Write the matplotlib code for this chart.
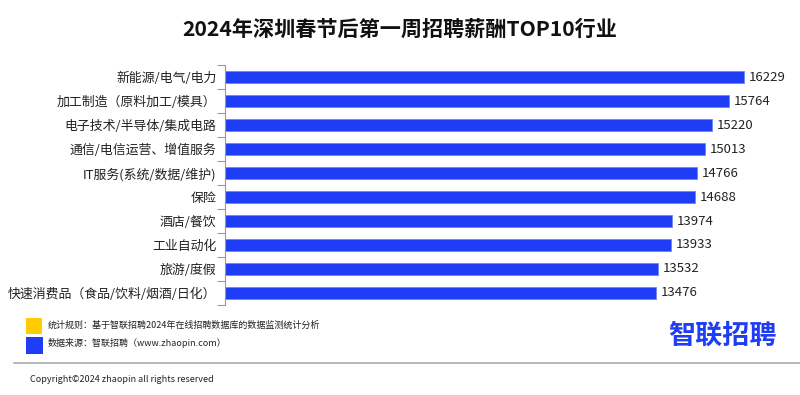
import numpy as np
import matplotlib
matplotlib.use("Agg")
import matplotlib.pyplot as plt
from matplotlib.patches import Rectangle
from matplotlib.lines import Line2D

plt.rcParams['font.family'] = ['Noto Sans CJK SC', 'DejaVu Sans']

# 数据
industries = ['新能源/电气/电力', '加工制造（原料加工/模具）', '电子技术/半导体/集成电路',
              '通信/电信运营、增值服务', 'IT服务(系统/数据/维护)', '保险', '酒店/餐饮',
              '工业自动化', '旅游/度假', '快速消费品（食品/饮料/烟酒/日化）']
salaries = [16229, 15764, 15220, 15013, 14766, 14688, 13974, 13933, 13532, 13476]

title = '2024年深圳春节后第一周招聘薪酬TOP10行业'
note_rule = '统计规则：基于智联招聘2024年在线招聘数据库的数据监测统计分析'
note_source = '数据来源：智联招聘（www.zhaopin.com）'
copyright_text = 'Copyright©2024 zhaopin all rights reserved'

bar_color = '#1f3df5'

fig = plt.figure(figsize=(8, 3.95), dpi=100)
fig.patch.set_facecolor('white')

ax = fig.add_axes([0.281, 0.228, 0.712, 0.607])
y = np.arange(len(industries))
ax.barh(y, salaries, height=0.52, color=bar_color, edgecolor='#6f86f7', linewidth=0.6)
for yi, v in zip(y, salaries):
    ax.text(v + 150, yi, str(v), va='center', ha='left', fontsize=9.5, color='#222222')

ax.set_ylim(len(industries) - 0.5, -0.5)
ax.set_xlim(0, 17800)
ax.set_yticks(y)
ax.set_yticklabels(industries, fontsize=9.3, color='#222222')
ax.set_yticks(np.arange(-0.5, len(industries) + 0.5, 1), minor=True)
ax.tick_params(axis='y', which='major', length=0, pad=6)
ax.tick_params(axis='y', which='minor', length=6, color='#999999', width=0.8)
ax.set_xticks([])
for s in ['top', 'right', 'bottom']:
    ax.spines[s].set_visible(False)
ax.spines['left'].set_color('#999999')
ax.spines['left'].set_linewidth(0.8)

fig.text(0.5, 0.925, title, ha='center', va='center', fontsize=15.2, fontweight='bold', color='#111111')

# 图例方块与说明
fig.patches.append(Rectangle((26 / 800, 1 - 334 / 395), 16 / 800, 16 / 395,
                             transform=fig.transFigure, facecolor='#ffcc00', edgecolor='none'))
fig.patches.append(Rectangle((26 / 800, 1 - 354 / 395), 17 / 800, 17 / 395,
                             transform=fig.transFigure, facecolor='#1f3df5', edgecolor='none'))
fig.text(48 / 800, 1 - 325 / 395, note_rule, fontsize=6.5, va='center', color='#222222')
fig.text(48 / 800, 1 - 343 / 395, note_source, fontsize=6.5, va='center', color='#222222')

fig.lines.append(Line2D([14 / 800, 1.0], [1 - 363 / 395] * 2, transform=fig.transFigure,
                        color='#aaaaaa', linewidth=1.2))
fig.text(30 / 800, 1 - 379 / 395, copyright_text, fontsize=6.5, va='center', color='#222222')

# 标志
fig.text(722 / 800, 1 - 336 / 395, '智联招聘', ha='center', va='center', fontsize=19.5,
         fontweight='bold', color='#1f3df5')

fig.savefig('out.png', dpi=100, facecolor='white')
